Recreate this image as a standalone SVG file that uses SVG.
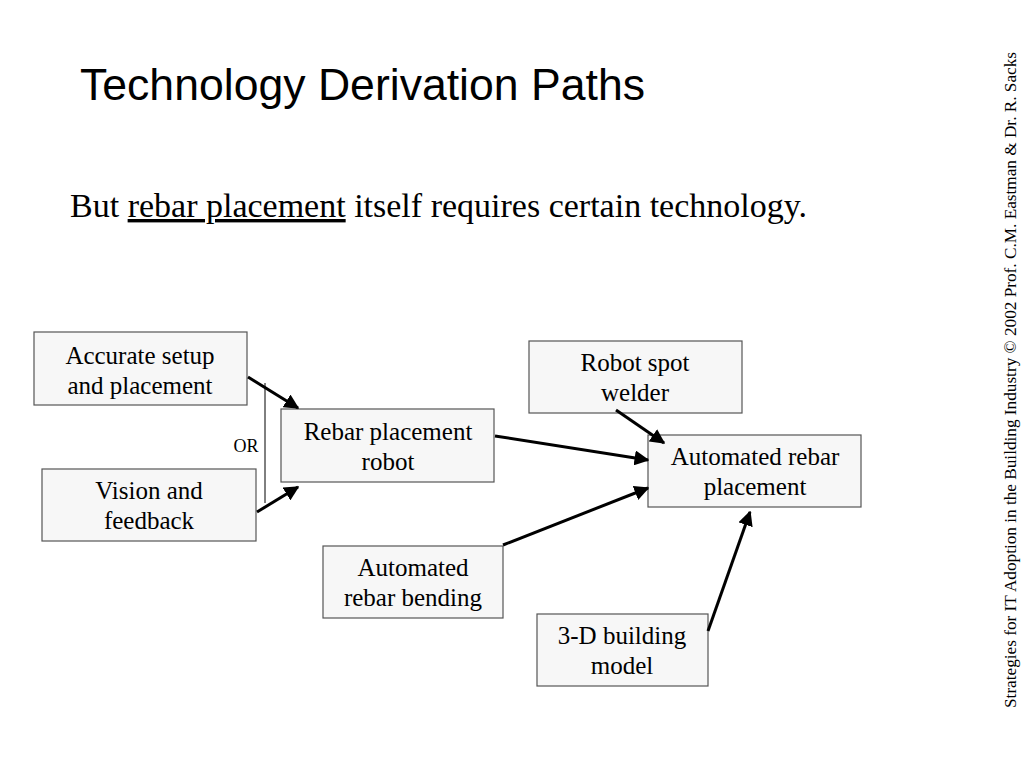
<svg xmlns="http://www.w3.org/2000/svg" width="1024" height="768" viewBox="0 0 1024 768">
<style>
.box{fill:#f7f7f7;stroke:#555;stroke-width:1.2}
.t{font-family:"Liberation Serif","Times New Roman",serif;font-size:25px;fill:#000;text-anchor:middle}
.c{stroke:#000;stroke-width:3;fill:none;marker-end:url(#ah)}
</style>
<defs>
<marker id="ah" viewBox="0 0 10 10" refX="9" refY="5" markerWidth="5" markerHeight="5" markerUnits="strokeWidth" orient="auto">
<path d="M0,0 L10,5 L0,10 Z" fill="#000"/>
</marker>
</defs>
<rect width="1024" height="768" fill="#fff"/>
<text x="80" y="100" font-family="Liberation Sans, Arial, sans-serif" font-size="44" textLength="565" lengthAdjust="spacingAndGlyphs">Technology Derivation Paths</text>
<text x="70" y="217" font-family="Liberation Serif, Times New Roman, serif" font-size="34">But <tspan text-decoration="underline">rebar placement</tspan> itself requires certain technology.</text>
<text transform="translate(1016,380) rotate(-90)" text-anchor="middle" font-family="Liberation Serif, Times New Roman, serif" font-size="17" textLength="656" lengthAdjust="spacingAndGlyphs">Strategies for IT Adoption in the Building Industry © 2002 Prof. C.M. Eastman  &amp; Dr. R. Sacks</text>
<text x="246" y="452" text-anchor="middle" font-family="Liberation Serif, Times New Roman, serif" font-size="18">OR</text>
<g id="n1"><rect class="box" x="34" y="332" width="213" height="73"/><text class="t" x="140" y="364">Accurate setup</text><text class="t" x="140" y="394">and placement</text></g>
<g id="n2"><rect class="box" x="42" y="469" width="214" height="72"/><text class="t" x="149" y="499">Vision and</text><text class="t" x="149" y="529">feedback</text></g>
<g id="n3"><rect class="box" x="281" y="409" width="213" height="73"/><text class="t" x="388" y="440">Rebar placement</text><text class="t" x="388" y="470">robot</text></g>
<g id="n4"><rect class="box" x="529" y="341" width="213" height="72"/><text class="t" x="635" y="371">Robot spot</text><text class="t" x="635" y="401">welder</text></g>
<g id="n5"><rect class="box" x="648" y="435" width="213" height="72"/><text class="t" x="755" y="465">Automated rebar</text><text class="t" x="755" y="495">placement</text></g>
<g id="n6"><rect class="box" x="323" y="546" width="180" height="72"/><text class="t" x="413" y="576">Automated</text><text class="t" x="413" y="606">rebar bending</text></g>
<g id="n7"><rect class="box" x="537" y="614" width="171" height="72"/><text class="t" x="622" y="644">3-D building</text><text class="t" x="622" y="674">model</text></g>
<g id="connectors">
<path class="c" d="M248,377 L298,408"/>
<path class="c" d="M257,512 L298,487"/>
<path d="M265,383 L265,503" stroke="#000" stroke-width="1" fill="none"/>
<path class="c" d="M495,436 L648,460"/>
<path class="c" d="M503,545 L648,488"/>
<path class="c" d="M616,410 L664,443"/>
<path class="c" d="M708,631 L750,512"/>
</g>
</svg>
